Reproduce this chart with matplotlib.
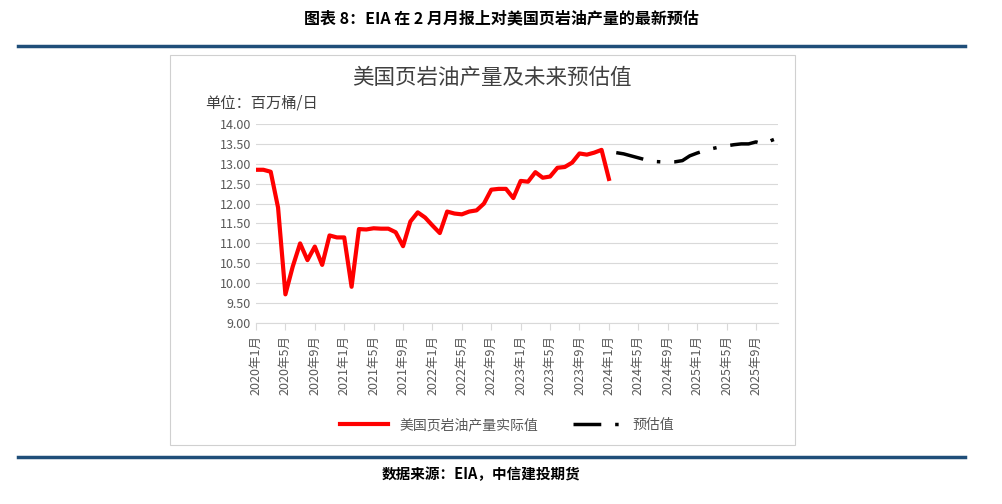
import matplotlib
matplotlib.use("Agg")
import matplotlib.pyplot as plt
from matplotlib.patches import Rectangle
from matplotlib.lines import Line2D

plt.rcParams['font.family'] = ['Noto Sans CJK SC', 'DejaVu Sans']

months = [f"{y}年{m}月" for y in range(2020, 2026) for m in range(1, 13)]
actual = [12.85, 12.85, 12.80, 11.90, 9.72, 10.42, 11.00, 10.58, 10.92, 10.46, 11.20, 11.15,
          11.15, 9.91, 11.36, 11.35, 11.38, 11.37, 11.37, 11.28, 10.93, 11.55, 11.78, 11.65,
          11.45, 11.26, 11.80, 11.75, 11.73, 11.80, 11.83, 12.00, 12.35, 12.37, 12.37, 12.14,
          12.57, 12.55, 12.79, 12.65, 12.68, 12.90, 12.92, 13.03, 13.26, 13.23, 13.28, 13.35,
          12.62]
forecast = [13.28, 13.25, 13.20, 13.15, 13.10, 13.06, 13.05, 13.05, 13.05, 13.08, 13.20, 13.27,
            13.33, 13.38, 13.42, 13.45, 13.48, 13.50, 13.50, 13.55, 13.50, 13.58, 13.65]
yticks = [9.0, 9.5, 10.0, 10.5, 11.0, 11.5, 12.0, 12.5, 13.0, 13.5, 14.0]

fig = plt.figure(figsize=(10.03, 5.04), dpi=100)
W, H = 1003, 504
navy = '#1f4e79'
fig.text(0.5, 1 - 18 / H, "图表 8：EIA 在 2 月月报上对美国页岩油产量的最新预估", ha='center', va='center',
         fontsize=11.5, fontweight='bold')
for yy in (46, 457):
    fig.add_artist(Line2D([18 / W, 965 / W], [1 - yy / H] * 2, color=navy, lw=2.5))
fig.add_artist(Rectangle((170 / W, 1 - 445 / H), 625 / W, 390 / H, fill=False, ec='#d0d0d0', lw=0.8))
fig.text(0.5 - 10 / W, 1 - 78 / H, "美国页岩油产量及未来预估值", ha='center', va='center', fontsize=15.5, color='#404040')
fig.text(205 / W, 1 - 103 / H, "单位：百万桶/日", ha='left', va='center', fontsize=11, color='#404040')
fig.text(0.5 - 20 / W, 1 - 474 / H, "数据来源：EIA，中信建投期货", ha='center', va='center', fontsize=10.5,
         fontweight='bold', style='italic')

ax = fig.add_axes([256 / W, 1 - 323 / H, 522 / W, 199 / H])
x_act = list(range(len(actual)))
x_fc = list(range(len(actual), len(actual) + len(forecast)))
ax.plot(x_act, actual, color='#ff0000', lw=3, label='美国页岩油产量实际值')
ax.plot(x_fc, forecast, color='black', lw=2.5, dashes=(8, 4, 1, 4), label='预估值')
ax.set_xlim(0, len(months) - 1)
ax.set_ylim(9, 14)
ax.set_yticks(yticks)
ax.set_yticklabels([f"{v:.2f}" for v in yticks], fontsize=9, color='#595959')
ax.set_xticks(range(0, len(months), 4))
ax.set_xticklabels(months[::4], rotation=90, fontsize=9, color='#595959')
ax.grid(axis='y', color='#d9d9d9', lw=0.8)
ax.set_axisbelow(True)
for s in ('top', 'right', 'left'):
    ax.spines[s].set_visible(False)
ax.spines['bottom'].set_color('#d9d9d9')
ax.tick_params(axis='y', length=0)
ax.tick_params(axis='x', color='#d9d9d9', length=5)
ax.legend(loc='center', bbox_to_anchor=(0.5 - 10 / 522, -(425 - 323) / 199), ncol=2, frameon=False,
          fontsize=10, handlelength=3.5, columnspacing=2.5, labelcolor='#595959')
fig.savefig("out.png", dpi=100)
